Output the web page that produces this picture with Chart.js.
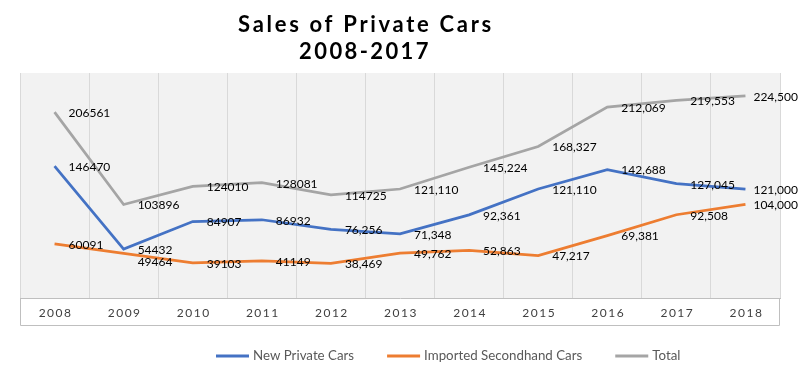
<!DOCTYPE html>
<html>
<head>
<meta charset="utf-8">
<script src="https://cdn.jsdelivr.net/npm/chart.js@4"></script>
<style>
  html, body { margin: 0; padding: 0; background: #fff; }
  #wrap { width: 800px; height: 373px; }
</style>
</head>
<body>
<div id="wrap"><canvas id="chart-cars"></canvas></div>
<script>
const years = ['2008', '2009', '2010', '2011', '2012', '2013', '2014', '2015', '2016', '2017', '2018'];
const newCars = [146470, 54432, 84907, 86932, 76256, 71348, 92361, 121110, 142688, 127045, 121000];
const importedCars = [60091, 49464, 39103, 41149, 38469, 49762, 52863, 47217, 69381, 92508, 104000];
const totalCars = [206561, 103896, 124010, 128081, 114725, 121110, 145224, 168327, 212069, 219553, 224500];
// the source prints the early labels without a thousands separator
const commaFrom = [4, 4, 5];

const titleLines = ['Sales of Private Cars', '2008-2017'];
const font = "'Lato', 'Open Sans', sans-serif";

function fmt(v, i, ds) {
  return i >= commaFrom[ds] ? v.toLocaleString('en-US') : String(v);
}

const sketch = {
  id: 'sketch',
  beforeDraw(chart) {
    const { ctx, chartArea: a } = chart;
    ctx.save();
    ctx.fillStyle = '#f2f2f2';
    ctx.fillRect(a.left, a.top, a.right - a.left, a.bottom - a.top);
    ctx.restore();
  },
  afterDraw(chart) {
    const { ctx, chartArea: a } = chart;
    const x = chart.scales.x;
    ctx.save();

    // box round the year labels
    ctx.strokeStyle = '#bfbfbf';
    ctx.lineWidth = 1;
    ctx.beginPath();
    ctx.moveTo(a.left + 0.5, a.bottom);
    ctx.lineTo(a.left + 0.5, a.bottom + 27.5);
    ctx.lineTo(a.right - 0.5, a.bottom + 27.5);
    ctx.lineTo(a.right - 0.5, a.bottom);
    ctx.stroke();

    // year labels
    ctx.fillStyle = '#404040';
    ctx.font = '12px ' + font;
    ctx.letterSpacing = '1.5px';
    ctx.textAlign = 'center';
    ctx.textBaseline = 'middle';
    years.forEach((y, i) => ctx.fillText(y, x.getPixelForValue(i) + 1, a.bottom + 15));

    // title
    ctx.fillStyle = '#000';
    ctx.font = 'bold 22px ' + font;
    ctx.letterSpacing = '2.7px';
    ctx.fillText(titleLines[0], 366, 25);
    ctx.letterSpacing = '2.4px';
    ctx.fillText(titleLines[1], 365, 52);
    ctx.letterSpacing = '0px';

    // value labels, right of each point
    ctx.font = '12px ' + font;
    ctx.textAlign = 'left';
    ctx.fillStyle = '#000';
    chart.data.datasets.forEach((ds, d) => {
      const meta = chart.getDatasetMeta(d);
      meta.data.forEach((pt, i) => {
        let dx = i === years.length - 1 ? 8 : 14;
        let dy = 1;
        if (d === 1 && i === 1) dy = 9;
        ctx.fillText(fmt(ds.data[i], i, d), pt.x + dx, pt.y + dy);
      });
    });

    // legend
    ctx.font = '13.3px ' + font;
    ctx.fillStyle = '#595959';
    let lx = 216;
    const ly = 356;
    chart.data.datasets.forEach(ds => {
      ctx.strokeStyle = ds.borderColor;
      ctx.lineWidth = 3;
      ctx.beginPath();
      ctx.moveTo(lx, ly);
      ctx.lineTo(lx + 33, ly);
      ctx.stroke();
      ctx.fillText(ds.label, lx + 37, ly);
      lx += 37 + ctx.measureText(ds.label).width + 33;
    });
    ctx.restore();
  }
};

new Chart(document.getElementById('chart-cars'), {
  type: 'line',
  data: {
    labels: years,
    datasets: [
      { label: 'New Private Cars', data: newCars, borderColor: '#4472c4' },
      { label: 'Imported Secondhand Cars', data: importedCars, borderColor: '#ed7d31' },
      { label: 'Total', data: totalCars, borderColor: '#a5a5a5' }
    ].map(ds => Object.assign(ds, { borderWidth: 2.75, pointRadius: 0, tension: 0, fill: false }))
  },
  options: {
    responsive: true,
    maintainAspectRatio: false,
    animation: false,
    layout: { padding: { top: 73, left: 20, right: 20, bottom: 75 } },
    plugins: {
      legend: { display: false },
      title: { display: false },
      tooltip: { enabled: false }
    },
    scales: {
      x: {
        offset: true,
        grid: { offset: true, color: '#d9d9d9', drawTicks: false },
        border: { display: true, color: '#bfbfbf' },
        ticks: { display: false }
      },
      y: {
        display: false,
        min: 0,
        max: 250000
      }
    }
  },
  plugins: [sketch]
});
</script>
</body>
</html>
